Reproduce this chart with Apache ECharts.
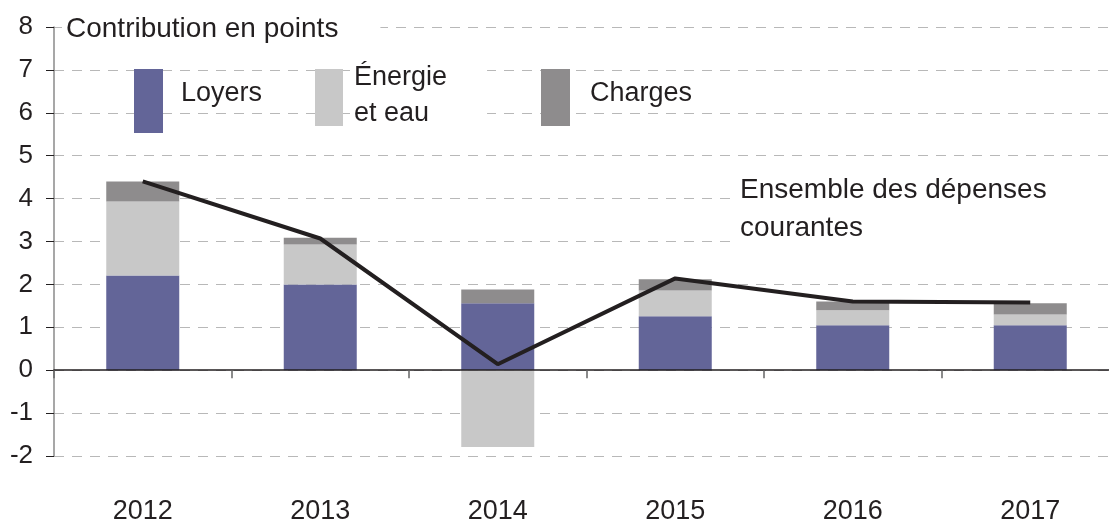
<!DOCTYPE html>
<html>
<head>
<meta charset="utf-8">
<script src="https://cdn.jsdelivr.net/npm/echarts@6/dist/echarts.min.js"></script>
<style>
  html, body { margin: 0; padding: 0; background: #fff; overflow: hidden; }
  /* a little wider than the window: the last category runs past the right edge */
  #chart { width: 1120px; height: 525px; }
</style>
</head>
<body>
<div id="chart"></div>
<script>
// ===== Data =====
const years = ['2012', '2013', '2014', '2015', '2016', '2017'];
const loyers = [2.21, 2.00, 1.56, 1.26, 1.05, 1.05];
const energie = [1.72, 0.93, -1.79, 0.60, 0.35, 0.25];
const charges = [0.47, 0.16, 0.32, 0.26, 0.20, 0.26];
const ensemble = [4.40, 3.07, 0.14, 2.14, 1.60, 1.58];
const yMin = -2;
const yMax = 8;

// ===== Colours =====
const COLORS = {
  text: '#231f20',
  loyers: '#636598',
  energie: '#c8c8c8',
  charges: '#8e8c8d',
  line: '#231f20',
  grid: '#b8b8b8',
  axis: '#8a8a8a',
};
const FONT = '"Liberation Sans", Arial, sans-serif';

const chart = echarts.init(document.getElementById('chart'), null, { renderer: 'canvas' });

const barSeries = (name, data, color) => ({
  name,
  type: 'bar',
  stack: 'total',
  data,
  barWidth: 73,
  itemStyle: { color },
  z: 2,
});

// legend / annotation blocks (white boxes hide the dashed grid behind text)
const textStyle = (text, size, extra = {}) => ({
  text,
  font: `${size}px ${FONT}`,
  fill: COLORS.text,
  ...extra,
});

chart.setOption({
  animation: false,
  grid: { left: 54, top: 27, width: 1065, height: 430 },
  xAxis: [
    {
      // labels only, at the bottom
      type: 'category',
      data: years,
      position: 'bottom',
      axisLine: { show: false, onZero: false },
      axisTick: { show: false },
      axisLabel: { color: COLORS.text, fontSize: 27, fontFamily: FONT, margin: 42 },
    },
    {
      // the zero line with its ticks
      type: 'category',
      data: years,
      position: 'bottom',
      axisLine: { show: true, onZero: true, lineStyle: { color: COLORS.text, width: 1.5 } },
      axisTick: { show: true, length: 8, lineStyle: { color: '#666', width: 1.5 } },
      axisLabel: { show: false },
      z: 5,
    },
  ],
  yAxis: {
    type: 'value',
    min: yMin,
    max: yMax,
    interval: 1,
    axisLine: { show: true, lineStyle: { color: COLORS.axis, width: 1.5 } },
    axisTick: { show: true, length: 8, lineStyle: { color: COLORS.text } },
    axisLabel: { color: COLORS.text, fontSize: 26, fontFamily: FONT, margin: 21 },
    splitLine: { show: true, lineStyle: { color: COLORS.grid, type: [10, 8], width: 1.2 } },
  },
  series: [
    barSeries('Loyers', loyers, COLORS.loyers),
    barSeries('Énergie et eau', energie, COLORS.energie),
    barSeries('Charges', charges, COLORS.charges),
    {
      name: 'Ensemble des dépenses courantes',
      type: 'line',
      data: ensemble,
      symbol: 'none',
      lineStyle: { color: COLORS.line, width: 4 },
      z: 6,
    },
  ],
  graphic: [
    // title
    {
      type: 'text', x: 62, y: 10, z: 10,
      style: textStyle('Contribution en points', 28, {
        backgroundColor: '#fff', padding: [2, 42, 2, 4], lineHeight: 34,
      }),
    },
    // legend
    { type: 'rect', shape: { x: 134, y: 69, width: 29, height: 64 }, style: { fill: COLORS.loyers }, z: 10 },
    { type: 'text', x: 181, y: 75, z: 10, style: textStyle('Loyers', 27, { lineHeight: 37 }) },
    { type: 'rect', shape: { x: 315, y: 69, width: 28, height: 57 }, style: { fill: COLORS.energie }, z: 10 },
    {
      type: 'text', x: 350, y: 58, z: 10,
      style: textStyle('Énergie\net eau', 27, {
        lineHeight: 36, backgroundColor: '#fff', padding: [2, 40, 4, 4],
      }),
    },
    { type: 'rect', shape: { x: 541, y: 69, width: 29, height: 57 }, style: { fill: COLORS.charges }, z: 10 },
    { type: 'text', x: 590, y: 75, z: 10, style: textStyle('Charges', 27, { lineHeight: 37 }) },
    // line annotation
    { type: 'rect', shape: { x: 736, y: 166, width: 390, height: 84 }, style: { fill: '#fff' }, z: 9 },
    {
      type: 'text', x: 740, y: 171, z: 10,
      style: textStyle('Ensemble des dépenses\ncourantes', 28, { lineHeight: 38 }),
    },
  ],
});
</script>
</body>
</html>
